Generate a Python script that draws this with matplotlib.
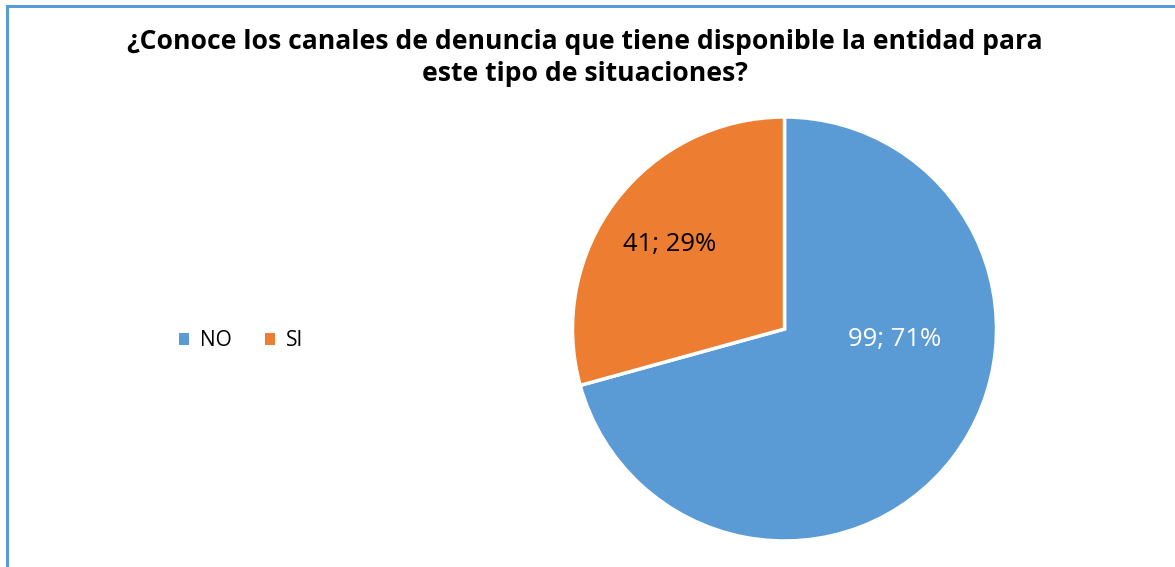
import matplotlib.pyplot as plt
from matplotlib.patches import Patch
from matplotlib.lines import Line2D

# datos
categorias = ['NO', 'SI']
valores = [99, 41]
colores = ['#5B9BD5', '#ED7D31']
titulo = '¿Conoce los canales de denuncia que tiene disponible la entidad para\neste tipo de situaciones?'

plt.rcParams['font.family'] = ['Open Sans', 'DejaVu Sans']

fig = plt.figure(figsize=(11.75, 5.67), dpi=100)
W, H = 1175, 567

# marco del gráfico (solo se ven borde superior e izquierdo)
fig.add_artist(Line2D([7 / W, 7 / W], [0, 1 - 6 / H], color='#5B9BD5', lw=2.2))
fig.add_artist(Line2D([7 / W, 1], [1 - 6 / H, 1 - 6 / H], color='#5B9BD5', lw=2.2))

fig.text(585 / W, 1 - 58 / H, titulo, ha='center', va='center',
         fontsize=19.1, fontweight='bold', linespacing=1.32)

ax = fig.add_axes([572 / W, 26 / H, 425 / W, 424 / H])
total = sum(valores)
wedges, _ = ax.pie(valores, colors=colores, startangle=90, counterclock=False,
                   wedgeprops=dict(edgecolor='white', linewidth=2.5))
ax.set_xlim(-1.0, 1.0)
ax.set_ylim(-1.0, 1.0)
ax.set_aspect('equal')

# etiquetas de datos
etiquetas = [f'{v}; {round(v / total * 100)}%' for v in valores]
ax.text(0.52, -0.05, etiquetas[0], ha='center', va='center', fontsize=18.5, color='white')
ax.text(-0.54, 0.40, etiquetas[1], ha='center', va='center', fontsize=18.5, color='black')

handles = [Patch(facecolor=c, edgecolor='none') for c in colores]
fig.legend(handles, categorias, loc='center', bbox_to_anchor=(241 / W, 1 - 341 / H),
           ncol=2, frameon=False, fontsize=15, handlelength=0.5, handleheight=0.5,
           handletextpad=0.5, columnspacing=1.6)

plt.savefig('out.png', dpi=100)
